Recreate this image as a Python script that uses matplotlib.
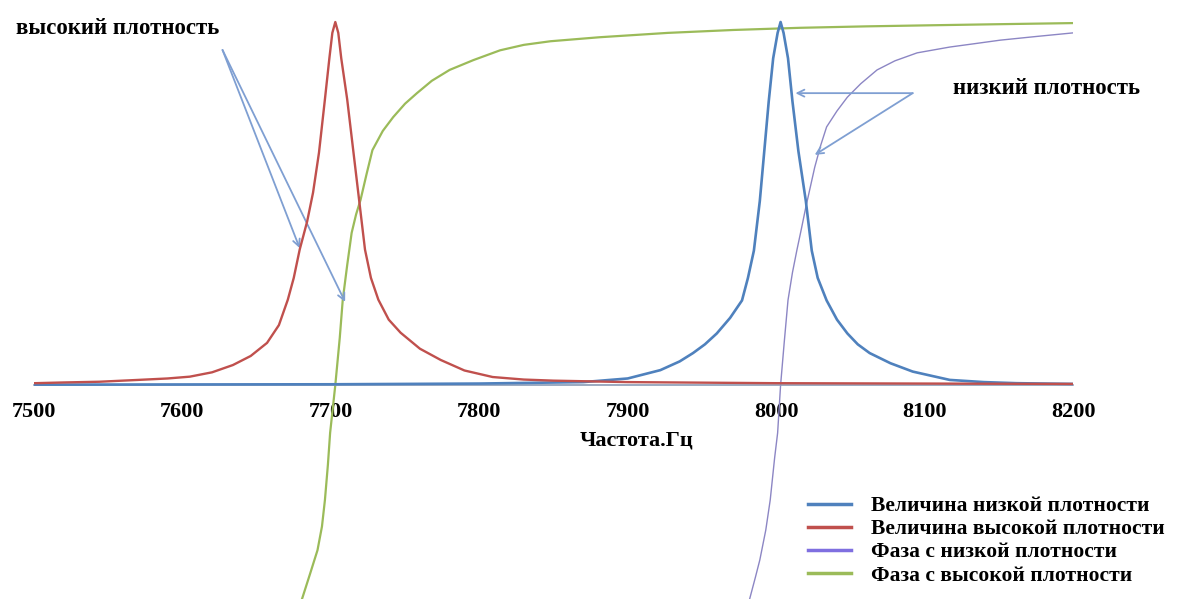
import matplotlib
matplotlib.use("Agg")
from matplotlib import pyplot as plt

# frequency, Hz / normalised magnitude
red_f = [7500, 7520, 7544, 7570, 7590, 7605, 7620, 7634, 7646, 7657, 7665, 7671, 7675, 7679,
         7684, 7688, 7692, 7696, 7699, 7701, 7703, 7705, 7707, 7711, 7715, 7719, 7723, 7727,
         7732, 7739, 7747, 7760, 7774, 7790, 7809, 7830, 7850, 7900, 8000, 8200]
red_v = [0.005, 0.007, 0.009, 0.014, 0.018, 0.023, 0.035, 0.055, 0.080, 0.116, 0.165, 0.235, 0.295, 0.373,
         0.450, 0.530, 0.640, 0.787, 0.90, 0.97, 1.0, 0.97, 0.90, 0.787, 0.649, 0.511, 0.373, 0.295,
         0.235, 0.180, 0.144, 0.100, 0.069, 0.040, 0.022, 0.015, 0.012, 0.008, 0.005, 0.003]

blue_f = [7500, 7700, 7800, 7870, 7900, 7922, 7935, 7944, 7952, 7960, 7969, 7977, 7981, 7985,
          7989, 7992, 7995, 7998, 8001, 8003, 8005, 8008, 8011, 8015, 8020, 8024, 8028, 8034,
          8041, 8048, 8055, 8063, 8077, 8092, 8105, 8117, 8140, 8162, 8200]
blue_v = [0.001, 0.002, 0.004, 0.008, 0.018, 0.041, 0.065, 0.088, 0.112, 0.142, 0.185, 0.233, 0.295, 0.370,
          0.507, 0.644, 0.781, 0.90, 0.97, 1.0, 0.97, 0.90, 0.781, 0.644, 0.507, 0.370, 0.295, 0.233,
          0.180, 0.142, 0.112, 0.088, 0.060, 0.037, 0.025, 0.014, 0.008, 0.005, 0.003]

# phase curves (same vertical scale, clipped by the frame)
green_f = [7670, 7681, 7686, 7691, 7694, 7696, 7698, 7699.5, 7703, 7706, 7708, 7711, 7714, 7717,
           7720, 7724, 7728, 7735, 7742, 7750, 7758, 7768, 7780, 7796, 7814, 7830, 7848, 7881,
           7927, 7971, 8016, 8061, 8105, 8151, 8200]
green_v = [-0.72, -0.584, -0.52, -0.455, -0.39, -0.317, -0.22, -0.132, 0.0, 0.13, 0.234, 0.33, 0.419, 0.47,
           0.51, 0.58, 0.647, 0.700, 0.738, 0.775, 0.804, 0.838, 0.868, 0.895, 0.922, 0.937, 0.947, 0.958,
           0.970, 0.978, 0.984, 0.988, 0.991, 0.994, 0.997]

purple_f = [7975, 7982.5, 7986, 7989, 7993, 7996, 7999, 8001, 8003, 8005.5, 8008, 8011, 8014, 8017,
            8020, 8026, 8030, 8034, 8041, 8048, 8057, 8068, 8080, 8095, 8117, 8135, 8151, 8175, 8200]
purple_v = [-0.70, -0.584, -0.53, -0.482, -0.40, -0.317, -0.20, -0.132, 0.0, 0.12, 0.234, 0.31, 0.372, 0.43,
            0.490, 0.60, 0.66, 0.711, 0.755, 0.793, 0.830, 0.868, 0.893, 0.915, 0.931, 0.941, 0.950, 0.960, 0.970]

ticks = [7500, 7600, 7700, 7800, 7900, 8000, 8100, 8200]
labels = ['Величина низкой плотности', 'Величина высокой плотности',
          'Фаза с низкой плотности', 'Фаза с высокой плотности']

serif = ['Liberation Serif', 'DejaVu Serif']

fig = plt.figure(figsize=(11.83, 5.99), dpi=100)
ax = fig.add_axes([34 / 1183, 0, 1039 / 1183, 1])

l_blue, = ax.plot(blue_f, blue_v, color='#4f81bd', lw=1.9, zorder=3)
l_red, = ax.plot(red_f, red_v, color='#c0504d', lw=1.7, zorder=4)
l_purple, = ax.plot(purple_f, purple_v, color='#8c86c4', lw=1.0, zorder=2)
l_green, = ax.plot(green_f, green_v, color='#9bbb59', lw=1.6, zorder=2)

ax.set_xlim(7500, 8200)
ax.set_ylim(-0.5895, 1.0606)
ax.set_yticks([])
for s in ['top', 'right', 'left']:
    ax.spines[s].set_visible(False)
ax.spines['bottom'].set_position(('data', 0))
ax.spines['bottom'].set_color('#8a9bb5')
ax.spines['bottom'].set_linewidth(1.2)
ax.set_xticks(ticks)
ax.tick_params(axis='x', length=0, pad=12)
for t in ax.get_xticklabels():
    t.set_family(serif)
    t.set_fontweight('bold')
    t.set_fontsize(16)
    t.set_bbox(dict(facecolor='white', edgecolor='none', pad=1))
    t.set_zorder(6)

ax.text(7906, -0.154, 'Частота.Гц', family=serif, fontweight='bold', fontsize=16,
        ha='center', va='center')

arrow = dict(arrowstyle='->,head_length=0.5,head_width=0.25', color='#7f9fd2', lw=1.3,
             shrinkA=0, shrinkB=0)
ax.annotate('', xy=(7679, 0.377), xytext=(7627, 0.923), arrowprops=arrow)
ax.annotate('', xy=(7709.6, 0.229), xytext=(7627, 0.923), arrowprops=arrow)
ax.annotate('', xy=(8013, 0.804), xytext=(8092, 0.804), arrowprops=arrow)
ax.annotate('', xy=(8026, 0.634), xytext=(8092, 0.804), arrowprops=arrow)
ax.text(7488, 0.983, 'высокий плотность', family=serif, fontweight='bold', fontsize=16.5,
        ha='left', va='center', clip_on=False)
ax.text(8119, 0.818, 'низкий плотность', family=serif, fontweight='bold', fontsize=16.5,
        ha='left', va='center', clip_on=False)

leg = fig.legend([l_blue, l_red, l_purple, l_green], labels, loc='upper left',
                 bbox_to_anchor=(791 / 1183, 1 - 479 / 599), frameon=False,
                 prop=dict(family=serif, weight='bold', size=15.5),
                 handlelength=2.0, handletextpad=0.9, labelspacing=0.14, borderpad=0.3)
for h, c in zip(leg.get_lines(), ['#4f81bd', '#c0504d', '#7f6fe0', '#9bbb59']):
    h.set_linewidth(2.5)
    h.set_color(c)

fig.savefig('out.png', dpi=100)
